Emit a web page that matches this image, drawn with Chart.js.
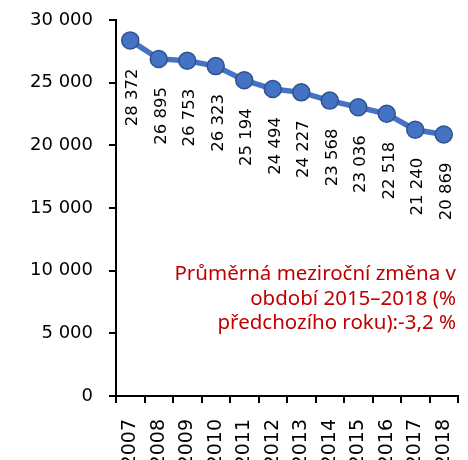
<!DOCTYPE html>
<html>
<head>
<meta charset="utf-8">
<script src="https://cdn.jsdelivr.net/npm/chart.js@4/dist/chart.umd.min.js"></script>
<style>
  html, body { margin: 0; padding: 0; background: #fff; }
  #wrap { width: 468px; height: 460px; }
</style>
</head>
<body>
<div id="wrap"><canvas id="c" width="468" height="460"></canvas></div>
<script>
// Years on the category axis
const years = ['2007', '2008', '2009', '2010', '2011', '2012', '2013', '2014', '2015', '2016', '2017', '2018'];
// Yearly counts
const counts = [28372, 26895, 26753, 26323, 25194, 24494, 24227, 23568, 23036, 22518, 21240, 20869];
// Value axis range and step
const yMin = 0;
const yMax = 30000;
const yStep = 5000;
// Note printed inside the plot
const noteLines = ['Průměrná meziroční změna v', 'období 2015–2018 (%', 'předchozího roku):-3,2 %'];

const numFont = 'DejaVu Sans';
const fmt = n => String(n).replace(/\B(?=(\d{3})+(?!\d))/g, '\u00a0');

// Rotated value labels hanging below each point
const valueLabels = {
  id: 'valueLabels',
  afterDatasetsDraw(chart) {
    const ctx = chart.ctx;
    const meta = chart.getDatasetMeta(0);
    meta.data.forEach((pt, i) => {
      ctx.save();
      ctx.translate(pt.x + 2.5, pt.y + 28);
      ctx.rotate(-Math.PI / 2);
      ctx.font = '16.5px "' + numFont + '"';
      ctx.fillStyle = '#000';
      ctx.textAlign = 'right';
      ctx.textBaseline = 'middle';
      ctx.fillText(fmt(counts[i]), 0, 0);
      ctx.restore();
    });
  }
};

// Red right-aligned note in the lower right of the plot
const noteText = {
  id: 'noteText',
  afterDraw(chart) {
    const ctx = chart.ctx;
    const right = chart.chartArea.right - 2;
    ctx.save();
    ctx.font = '20.5px "Noto Sans"';
    ctx.fillStyle = '#C00000';
    ctx.textAlign = 'right';
    ctx.textBaseline = 'alphabetic';
    noteLines.forEach((line, i) => ctx.fillText(line, right, 280 + i * 24.5));
    ctx.restore();
  }
};

new Chart(document.getElementById('c'), {
  type: 'line',
  data: {
    labels: years,
    datasets: [{
      data: counts,
      borderColor: '#4472C4',
      borderWidth: 5.5,
      pointRadius: 8.5,
      pointHoverRadius: 8.5,
      pointBackgroundColor: '#4472C4',
      pointBorderColor: '#2F528F',
      pointBorderWidth: 1.5,
      tension: 0,
      clip: false
    }]
  },
  options: {
    responsive: false,
    animation: false,
    devicePixelRatio: 1,
    layout: { padding: { top: 20, left: 0, right: 0, bottom: 0 } },
    plugins: { legend: { display: false }, tooltip: { enabled: false } },
    scales: {
      x: {
        type: 'category',
        offset: true,
        grid: { offset: true, drawOnChartArea: false, tickLength: 7, color: '#000', lineWidth: 2 },
        border: { display: true, color: '#000', width: 2 },
        ticks: {
          minRotation: 90, maxRotation: 90, autoSkip: false, padding: 16,
          color: '#000', font: { family: numFont, size: 19 }
        },
        afterFit(s) { s.height = 64; s.paddingLeft = 0; s.paddingRight = 0; }
      },
      y: {
        min: yMin,
        max: yMax,
        grid: { drawOnChartArea: false, tickLength: 7, color: '#000', lineWidth: 2 },
        border: { display: true, color: '#000', width: 2 },
        ticks: {
          stepSize: yStep, padding: 16, color: '#000',
          font: { family: numFont, size: 18 },
          callback: v => fmt(v)
        },
        afterFit(s) { s.width = 116; s.paddingTop = 0; s.paddingBottom = 0; }
      }
    }
  },
  plugins: [valueLabels, noteText]
});
</script>
</body>
</html>
